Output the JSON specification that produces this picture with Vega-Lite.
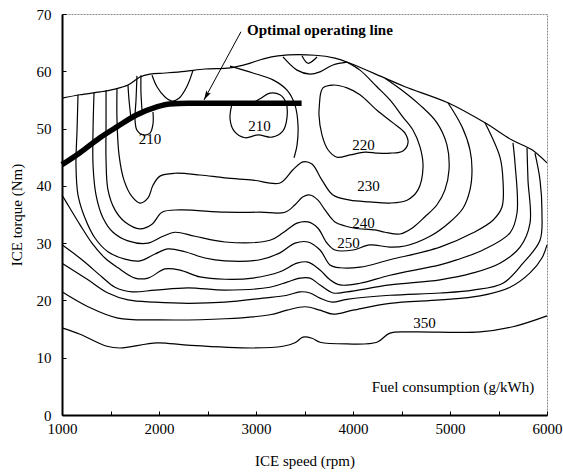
{
"$schema": "https://vega.github.io/schema/vega-lite/v6.json",
"width": 485, "height": 401,
"autosize": {"type": "none"},
"padding": {"left": 62, "top": 14, "right": 16, "bottom": 58},
"config": {"view": {"stroke": "#888", "strokeWidth": 1, "strokeDash": [2, 1]}, "font": "Liberation Serif"},
"datasets": {
"ct": [
{"c":"B","x":1000,"y":55.3},{"c":"B","x":1186,"y":55.9},{"c":"B","x":1392,"y":56.4},{"c":"B","x":1546,"y":56.9},{"c":"B","x":1680,"y":57.6},{"c":"B","x":1804,"y":59.0},{"c":"B","x":1907,"y":59.5},{"c":"B","x":2062,"y":59.7},{"c":"B","x":2268,"y":60.0},{"c":"B","x":2474,"y":60.4},{"c":"B","x":2732,"y":60.6},{"c":"B","x":2917,"y":61.3},{"c":"B","x":3062,"y":62.1},{"c":"B","x":3227,"y":62.7},{"c":"B","x":3608,"y":62.8},{"c":"B","x":3814,"y":62.3},{"c":"B","x":3969,"y":61.4},{"c":"B","x":4330,"y":58.8},{"c":"B","x":4536,"y":57.3},{"c":"B","x":4979,"y":54.5},{"c":"B","x":5361,"y":51.0},{"c":"B","x":5639,"y":48.0},{"c":"B","x":5845,"y":46.3},{"c":"B","x":6000,"y":44.0},
{"c":"350","x":1000,"y":15.2},{"c":"350","x":1186,"y":14.1},{"c":"350","x":1464,"y":12.0},{"c":"350","x":1598,"y":11.7},{"c":"350","x":1979,"y":12.6},{"c":"350","x":2289,"y":12.2},{"c":"350","x":2969,"y":11.7},{"c":"350","x":3278,"y":12.0},{"c":"350","x":3402,"y":12.6},{"c":"350","x":3485,"y":13.6},{"c":"350","x":3577,"y":13.4},{"c":"350","x":3660,"y":12.7},{"c":"350","x":3938,"y":12.4},{"c":"350","x":4247,"y":12.7},{"c":"350","x":4381,"y":14.3},{"c":"350","x":4619,"y":14.5},{"c":"350","x":5309,"y":14.5},{"c":"350","x":5649,"y":15.4},{"c":"350","x":6000,"y":17.3},
{"c":"300","x":1000,"y":21.5},{"c":"300","x":1268,"y":18.9},{"c":"300","x":1577,"y":16.9},{"c":"300","x":2010,"y":16.6},{"c":"300","x":2680,"y":16.8},{"c":"300","x":3144,"y":17.5},{"c":"300","x":3320,"y":18.3},{"c":"300","x":3505,"y":18.9},{"c":"300","x":3660,"y":18.3},{"c":"300","x":3794,"y":17.6},{"c":"300","x":4000,"y":18.3},{"c":"300","x":4381,"y":19.5},{"c":"300","x":4897,"y":20.1},{"c":"300","x":5309,"y":20.8},{"c":"300","x":5619,"y":22.3},{"c":"300","x":5825,"y":24.8},{"c":"300","x":5948,"y":27.4},{"c":"300","x":6000,"y":29.7},
{"c":"290","x":1000,"y":26.5},{"c":"290","x":1268,"y":23.6},{"c":"290","x":1474,"y":21.3},{"c":"290","x":1680,"y":20.1},{"c":"290","x":1959,"y":19.7},{"c":"290","x":2299,"y":19.5},{"c":"290","x":2680,"y":19.7},{"c":"290","x":3072,"y":20.4},{"c":"290","x":3320,"y":20.9},{"c":"290","x":3454,"y":21.5},{"c":"290","x":3557,"y":21.3},{"c":"290","x":3660,"y":20.4},{"c":"290","x":3784,"y":19.7},{"c":"290","x":3938,"y":20.2},{"c":"290","x":4381,"y":20.9},{"c":"290","x":4897,"y":21.3},{"c":"290","x":5237,"y":21.8},{"c":"290","x":5546,"y":23.0},{"c":"290","x":5753,"y":26.5},{"c":"290","x":5928,"y":30.5},{"c":"290","x":5948,"y":35.3},{"c":"290","x":5928,"y":41.0},{"c":"290","x":5876,"y":45.7},
{"c":"280","x":1000,"y":29.7},{"c":"280","x":1206,"y":27.1},{"c":"280","x":1412,"y":24.1},{"c":"280","x":1546,"y":22.3},{"c":"280","x":1722,"y":21.5},{"c":"280","x":1959,"y":21.8},{"c":"280","x":2299,"y":22.2},{"c":"280","x":2680,"y":21.8},{"c":"280","x":3144,"y":22.3},{"c":"280","x":3320,"y":23.2},{"c":"280","x":3454,"y":23.9},{"c":"280","x":3557,"y":23.9},{"c":"280","x":3660,"y":22.7},{"c":"280","x":3794,"y":21.3},{"c":"280","x":3938,"y":21.5},{"c":"280","x":4381,"y":22.7},{"c":"280","x":4897,"y":23.6},{"c":"280","x":5237,"y":24.8},{"c":"280","x":5515,"y":26.5},{"c":"280","x":5722,"y":29.3},{"c":"280","x":5825,"y":33.5},{"c":"280","x":5804,"y":41.0},{"c":"280","x":5794,"y":46.6},
{"c":"270","x":1000,"y":38.4},{"c":"270","x":1082,"y":36.1},{"c":"270","x":1186,"y":33.2},{"c":"270","x":1309,"y":30.0},{"c":"270","x":1443,"y":27.4},{"c":"270","x":1577,"y":25.7},{"c":"270","x":1753,"y":23.9},{"c":"270","x":1887,"y":23.9},{"c":"270","x":2062,"y":25.5},{"c":"270","x":2216,"y":25.3},{"c":"270","x":2423,"y":24.1},{"c":"270","x":2680,"y":23.7},{"c":"270","x":2969,"y":23.9},{"c":"270","x":3247,"y":25.0},{"c":"270","x":3423,"y":26.5},{"c":"270","x":3536,"y":26.7},{"c":"270","x":3660,"y":25.3},{"c":"270","x":3763,"y":23.6},{"c":"270","x":3866,"y":22.7},{"c":"270","x":4072,"y":23.0},{"c":"270","x":4381,"y":24.4},{"c":"270","x":4897,"y":26.2},{"c":"270","x":5072,"y":27.1},{"c":"270","x":5340,"y":28.8},{"c":"270","x":5619,"y":31.8},{"c":"270","x":5691,"y":35.3},{"c":"270","x":5670,"y":44.0},{"c":"270","x":5649,"y":47.5},
{"c":"260","x":1165,"y":55.9},{"c":"260","x":1155,"y":49.7},{"c":"260","x":1144,"y":43.6},{"c":"260","x":1165,"y":38.4},{"c":"260","x":1237,"y":34.4},{"c":"260","x":1340,"y":30.9},{"c":"260","x":1474,"y":28.5},{"c":"260","x":1649,"y":27.2},{"c":"260","x":1804,"y":26.9},{"c":"260","x":1959,"y":28.1},{"c":"260","x":2093,"y":29.0},{"c":"260","x":2268,"y":28.5},{"c":"260","x":2474,"y":27.4},{"c":"260","x":2680,"y":26.9},{"c":"260","x":3041,"y":27.1},{"c":"260","x":3247,"y":28.3},{"c":"260","x":3402,"y":30.0},{"c":"260","x":3536,"y":30.2},{"c":"260","x":3660,"y":28.8},{"c":"260","x":3763,"y":26.2},{"c":"260","x":3866,"y":25.7},{"c":"260","x":4072,"y":25.8},{"c":"260","x":4381,"y":27.1},{"c":"260","x":4897,"y":29.3},{"c":"260","x":5237,"y":31.8},{"c":"260","x":5443,"y":34.0},{"c":"260","x":5536,"y":36.3},{"c":"260","x":5546,"y":41.0},{"c":"260","x":5515,"y":45.0},{"c":"260","x":5361,"y":51.0},
{"c":"250","x":1330,"y":56.2},{"c":"250","x":1320,"y":49.7},{"c":"250","x":1320,"y":43.6},{"c":"250","x":1351,"y":38.4},{"c":"250","x":1423,"y":34.4},{"c":"250","x":1526,"y":31.9},{"c":"250","x":1680,"y":30.4},{"c":"250","x":1887,"y":30.0},{"c":"250","x":2041,"y":31.2},{"c":"250","x":2165,"y":31.9},{"c":"250","x":2371,"y":31.2},{"c":"250","x":2680,"y":30.2},{"c":"250","x":3144,"y":30.5},{"c":"250","x":3278,"y":31.8},{"c":"250","x":3423,"y":33.5},{"c":"250","x":3536,"y":33.7},{"c":"250","x":3639,"y":32.6},{"c":"250","x":3732,"y":30.0},{"c":"250","x":3814,"y":28.8},{"c":"250","x":4000,"y":28.8},{"c":"250","x":4175,"y":29.7},{"c":"250","x":4381,"y":29.3},{"c":"250","x":4536,"y":29.5},{"c":"250","x":4794,"y":31.2},{"c":"250","x":5000,"y":33.7},{"c":"250","x":5134,"y":36.1},{"c":"250","x":5206,"y":39.3},{"c":"250","x":5227,"y":42.8},{"c":"250","x":5206,"y":46.3},{"c":"250","x":5124,"y":50.3},{"c":"250","x":4979,"y":54.5},
{"c":"240","x":1454,"y":56.7},{"c":"240","x":1454,"y":50.6},{"c":"240","x":1454,"y":44.5},{"c":"240","x":1474,"y":39.3},{"c":"240","x":1546,"y":35.8},{"c":"240","x":1649,"y":33.7},{"c":"240","x":1804,"y":32.5},{"c":"240","x":1928,"y":33.3},{"c":"240","x":2031,"y":35.4},{"c":"240","x":2216,"y":35.8},{"c":"240","x":2680,"y":35.4},{"c":"240","x":3041,"y":35.4},{"c":"240","x":3299,"y":35.4},{"c":"240","x":3402,"y":36.7},{"c":"240","x":3485,"y":38.1},{"c":"240","x":3557,"y":38.4},{"c":"240","x":3639,"y":37.5},{"c":"240","x":3711,"y":35.8},{"c":"240","x":3814,"y":33.7},{"c":"240","x":3918,"y":33.0},{"c":"240","x":4021,"y":32.6},{"c":"240","x":4227,"y":32.3},{"c":"240","x":4330,"y":31.9},{"c":"240","x":4485,"y":31.6},{"c":"240","x":4608,"y":32.6},{"c":"240","x":4742,"y":34.6},{"c":"240","x":4866,"y":36.7},{"c":"240","x":4948,"y":39.3},{"c":"240","x":4990,"y":42.8},{"c":"240","x":4969,"y":47.1},{"c":"240","x":4866,"y":51.0},{"c":"240","x":4691,"y":54.1},{"c":"240","x":4505,"y":56.7},{"c":"240","x":4330,"y":58.8},
{"c":"230","x":1567,"y":57.1},{"c":"230","x":1567,"y":51.5},{"c":"230","x":1588,"y":45.4},{"c":"230","x":1639,"y":41.0},{"c":"230","x":1722,"y":38.1},{"c":"230","x":1804,"y":37.0},{"c":"230","x":1887,"y":37.9},{"c":"230","x":1938,"y":40.1},{"c":"230","x":2010,"y":41.7},{"c":"230","x":2165,"y":42.2},{"c":"230","x":2423,"y":41.9},{"c":"230","x":2680,"y":41.4},{"c":"230","x":2969,"y":41.0},{"c":"230","x":3247,"y":40.5},{"c":"230","x":3381,"y":42.8},{"c":"230","x":3485,"y":44.2},{"c":"230","x":3577,"y":43.8},{"c":"230","x":3680,"y":41.0},{"c":"230","x":3794,"y":38.4},{"c":"230","x":3969,"y":37.5},{"c":"230","x":4175,"y":37.2},{"c":"230","x":4381,"y":37.0},{"c":"230","x":4557,"y":37.5},{"c":"230","x":4670,"y":39.3},{"c":"230","x":4722,"y":43.3},{"c":"230","x":4691,"y":46.8},{"c":"230","x":4619,"y":49.7},{"c":"230","x":4515,"y":52.0},{"c":"230","x":4381,"y":55.0},{"c":"230","x":4247,"y":57.3},{"c":"230","x":4072,"y":60.2},{"c":"230","x":3938,"y":61.6},
{"c":"220","x":3660,"y":55.5},{"c":"220","x":3691,"y":57.1},{"c":"220","x":3794,"y":57.6},{"c":"220","x":3938,"y":57.1},{"c":"220","x":4072,"y":55.9},{"c":"220","x":4247,"y":53.2},{"c":"220","x":4412,"y":51.0},{"c":"220","x":4536,"y":49.2},{"c":"220","x":4567,"y":47.5},{"c":"220","x":4515,"y":46.1},{"c":"220","x":4381,"y":45.7},{"c":"220","x":4258,"y":45.7},{"c":"220","x":4124,"y":45.9},{"c":"220","x":3969,"y":45.4},{"c":"220","x":3835,"y":45.0},{"c":"220","x":3742,"y":46.3},{"c":"220","x":3680,"y":48.9},{"c":"220","x":3649,"y":52.4},{"c":"220","x":3660,"y":55.5},
{"c":"210c","x":2753,"y":54.3},{"c":"210c","x":2732,"y":51.8},{"c":"210c","x":2773,"y":49.6},{"c":"210c","x":2887,"y":48.4},{"c":"210c","x":3021,"y":48.9},{"c":"210c","x":3165,"y":48.5},{"c":"210c","x":3278,"y":49.6},{"c":"210c","x":3320,"y":52.0},{"c":"210c","x":3309,"y":54.5},{"c":"210c","x":3247,"y":55.9},{"c":"210c","x":3144,"y":56.2},{"c":"210c","x":3041,"y":55.2},{"c":"210c","x":2938,"y":54.3},{"c":"210c","x":2753,"y":54.3},
{"c":"v300","x":2732,"y":60.9},{"c":"v300","x":2969,"y":59.7},{"c":"v300","x":3175,"y":58.5},{"c":"v300","x":3320,"y":56.7},{"c":"v300","x":3402,"y":54.1},{"c":"v300","x":3433,"y":50.6},{"c":"v300","x":3423,"y":47.1},{"c":"v300","x":3392,"y":44.9},
{"c":"W","x":3278,"y":62.5},{"c":"W","x":3423,"y":60.2},{"c":"W","x":3557,"y":59.5},{"c":"W","x":3660,"y":59.9},{"c":"W","x":3794,"y":61.1},{"c":"W","x":3938,"y":61.6},
{"c":"tu","x":3474,"y":62.7},{"c":"tu","x":3536,"y":61.4},{"c":"tu","x":3629,"y":62.5},
{"c":"U","x":1928,"y":59.3},{"c":"U","x":1979,"y":57.3},{"c":"U","x":2062,"y":55.5},{"c":"U","x":2134,"y":54.8},{"c":"U","x":2206,"y":55.3},{"c":"U","x":2289,"y":57.4},{"c":"U","x":2351,"y":60.2},
{"c":"P","x":1773,"y":59.2},{"c":"P","x":1763,"y":55.0},{"c":"P","x":1753,"y":51.5},{"c":"P","x":1773,"y":49.7},{"c":"P","x":1835,"y":48.9},{"c":"P","x":1907,"y":49.2},{"c":"P","x":1938,"y":50.8},{"c":"P","x":1938,"y":52.9},
{"c":"Q","x":1814,"y":59.3},{"c":"Q","x":1814,"y":56.4},{"c":"Q","x":1825,"y":53.2},
{"c":"L128","x":1680,"y":57.6},{"c":"L128","x":1691,"y":55.0},{"c":"L128","x":1711,"y":51.8}
],
"opt": [
{"x":1000,"y":43.7},{"x":1185,"y":45.8},{"x":1391,"y":48.4},{"x":1566,"y":50.3},{"x":1772,"y":52.4},{"x":1977,"y":53.8},{"x":2111,"y":54.3},{"x":2300,"y":54.4},{"x":3470,"y":54.4}
],
"lab": [
{"t":"210","x":1907,"y":48.1},{"t":"210","x":3037,"y":50.5},{"t":"220","x":4108,"y":47.2},{"t":"230","x":4159,"y":40.0},{"t":"240","x":4108,"y":33.6},{"t":"250","x":3953,"y":30.1},{"t":"350","x":4736,"y":16.1}
],
"arrow": [
{"x":2845,"y":66.9,"x2":2464,"y2":55.0}
]
},
"layer": [
{"data": {"name": "ct"},
 "mark": {"type": "line", "stroke": "black", "strokeWidth": 1.2, "interpolate": "catmull-rom"},
 "encoding": {
   "x": {"field": "x", "type": "quantitative", "scale": {"domain": [1000, 6000], "nice": false, "zero": false},
     "axis": {"values": [1000,1500,2000,2500,3000,3500,4000,4500,5000,5500,6000], "labelExpr": "datum.value % 1000 === 0 ? datum.label : ''", "format": "d", "grid": false, "tickSize": -4, "tickColor": "black", "domainColor": "black", "domainWidth": 2, "labelFont": "Liberation Serif", "labelFontSize": 15, "labelColor": "black", "labelFlush": false, "labelOverlap": false, "labelPadding": 10, "title": "ICE speed (rpm)", "titleFont": "Liberation Serif", "titleFontSize": 15, "titleFontWeight": "normal", "titleColor": "black", "titlePadding": 17}},
   "y": {"field": "y", "type": "quantitative", "scale": {"domain": [0, 70], "nice": false, "zero": false},
     "axis": {"values": [0,5,10,15,20,25,30,35,40,45,50,55,60,65,70], "labelExpr": "datum.value % 10 === 0 ? datum.label : ''", "grid": false, "tickSize": -4, "tickColor": "black", "domainColor": "black", "domainWidth": 2, "labelFont": "Liberation Serif", "labelFontSize": 15, "labelColor": "black", "labelFlush": false, "labelOverlap": false, "labelPadding": 15, "title": "ICE torque (Nm)", "titleFont": "Liberation Serif", "titleFontSize": 15, "titleFontWeight": "normal", "titleColor": "black", "titlePadding": 12}},
   "detail": {"field": "c"},
   "order": {"value": null}
 }},
{"data": {"name": "opt"},
 "mark": {"type": "line", "stroke": "black", "strokeWidth": 5.5, "interpolate": "monotone"},
 "encoding": {"x": {"field": "x", "type": "quantitative"}, "y": {"field": "y", "type": "quantitative"}}},
{"data": {"name": "arrow"},
 "mark": {"type": "rule", "stroke": "black", "strokeWidth": 1},
 "encoding": {"x": {"field": "x", "type": "quantitative"}, "y": {"field": "y", "type": "quantitative"}, "x2": {"field": "x2"}, "y2": {"field": "y2"}}},
{"data": {"name": "arrow"},
 "mark": {"type": "point", "shape": "M0,0L-0.55,2L0,1.6L0.55,2Z", "filled": true, "color": "black", "size": 90, "angle": 209, "opacity": 1},
 "encoding": {"x": {"field": "x2", "type": "quantitative"}, "y": {"field": "y2", "type": "quantitative"}}},
{"data": {"values": [{"t": "Optimal operating line", "x": 2907, "y": 67.2}]},
 "mark": {"type": "text", "font": "Liberation Serif", "fontSize": 15, "fontWeight": "bold", "align": "left", "baseline": "middle", "color": "black"},
 "encoding": {"x": {"field": "x", "type": "quantitative"}, "y": {"field": "y", "type": "quantitative"}, "text": {"field": "t"}}},
{"data": {"values": [{"t": "Fuel consumption (g/kWh)", "x": 5031, "y": 4.9}]},
 "mark": {"type": "text", "font": "Liberation Serif", "fontSize": 15, "align": "center", "baseline": "middle", "color": "black"},
 "encoding": {"x": {"field": "x", "type": "quantitative"}, "y": {"field": "y", "type": "quantitative"}, "text": {"field": "t"}}},
{"data": {"name": "lab"},
 "mark": {"type": "text", "font": "Liberation Serif", "fontSize": 15, "align": "center", "baseline": "middle", "color": "black"},
 "encoding": {"x": {"field": "x", "type": "quantitative"}, "y": {"field": "y", "type": "quantitative"}, "text": {"field": "t"}}}
]
}
